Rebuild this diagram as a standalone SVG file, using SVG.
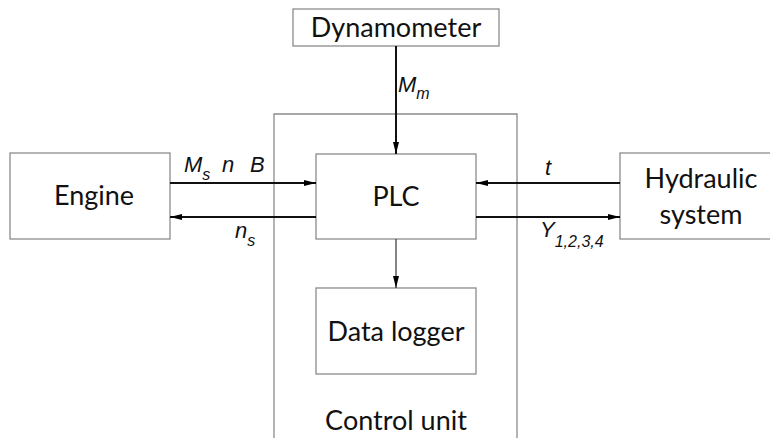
<svg xmlns="http://www.w3.org/2000/svg" width="770" height="438" viewBox="0 0 770 438">
<defs>
<marker id="ah" viewBox="0 0 12 6" refX="12" refY="3" markerWidth="12" markerHeight="6" markerUnits="userSpaceOnUse" orient="auto">
<path d="M0,0 L12,3 L0,6 Z" fill="#000"/>
</marker>
</defs>
<style>
.box{fill:#fff;stroke:#8c8c8c;stroke-width:1.3}
.lbl{font-family:Lato,"Open Sans",sans-serif;font-size:27px;fill:#111;text-anchor:middle}
.sig{font-family:"Liberation Sans",Arial,sans-serif;font-style:italic;font-size:22px;fill:#111}
.sub{font-size:16px}
.conn{stroke:#111;stroke-width:2;fill:none;marker-end:url(#ah)}
.thin{stroke:#333;stroke-width:1.2;fill:none;marker-end:url(#ah)}
</style>
<rect width="770" height="438" fill="#fff"/>
<g id="control-unit">
<path d="M274,440 V114 H517 V440" class="box" fill="none"/>
<text class="lbl" x="396" y="430">Control unit</text>
</g>
<g id="dynamometer">
<rect class="box" x="293" y="9" width="206" height="37"/>
<text class="lbl" x="396" y="37">Dynamometer</text>
</g>
<g id="engine">
<rect class="box" x="10" y="153" width="160" height="86"/>
<text class="lbl" x="94" y="205">Engine</text>
</g>
<g id="plc">
<rect class="box" x="316" y="154" width="160" height="85"/>
<text class="lbl" x="396" y="206">PLC</text>
</g>
<g id="hydraulic">
<rect class="box" x="620" y="153" width="160" height="86"/>
<text class="lbl" x="701" y="188">Hydraulic</text>
<text class="lbl" x="701" y="224">system</text>
</g>
<g id="data-logger">
<rect class="box" x="316" y="288" width="160" height="86"/>
<text class="lbl" x="396" y="341">Data logger</text>
</g>
<g id="connectors">
<line class="conn" x1="396" y1="46" x2="396" y2="154"/>
<line class="conn" x1="170" y1="183" x2="316" y2="183"/>
<line class="conn" x1="316" y1="217" x2="170" y2="217"/>
<line class="conn" x1="620" y1="183" x2="476" y2="183"/>
<line class="conn" x1="476" y1="217" x2="620" y2="217"/>
<line class="thin" x1="396" y1="239" x2="396" y2="288"/>
<text class="sig" x="398" y="92">M<tspan class="sub" dy="7">m</tspan></text>
<text class="sig" x="184" y="172">M<tspan class="sub" dy="8">s</tspan><tspan dy="-8" x="222">n</tspan><tspan x="250">B</tspan></text>
<text class="sig" x="235" y="238">n<tspan class="sub" dy="8">s</tspan></text>
<text class="sig" x="545" y="175">t</text>
<text class="sig" x="540" y="237">Y<tspan class="sub" dy="10">1,2,3,4</tspan></text>
</g>
</svg>
